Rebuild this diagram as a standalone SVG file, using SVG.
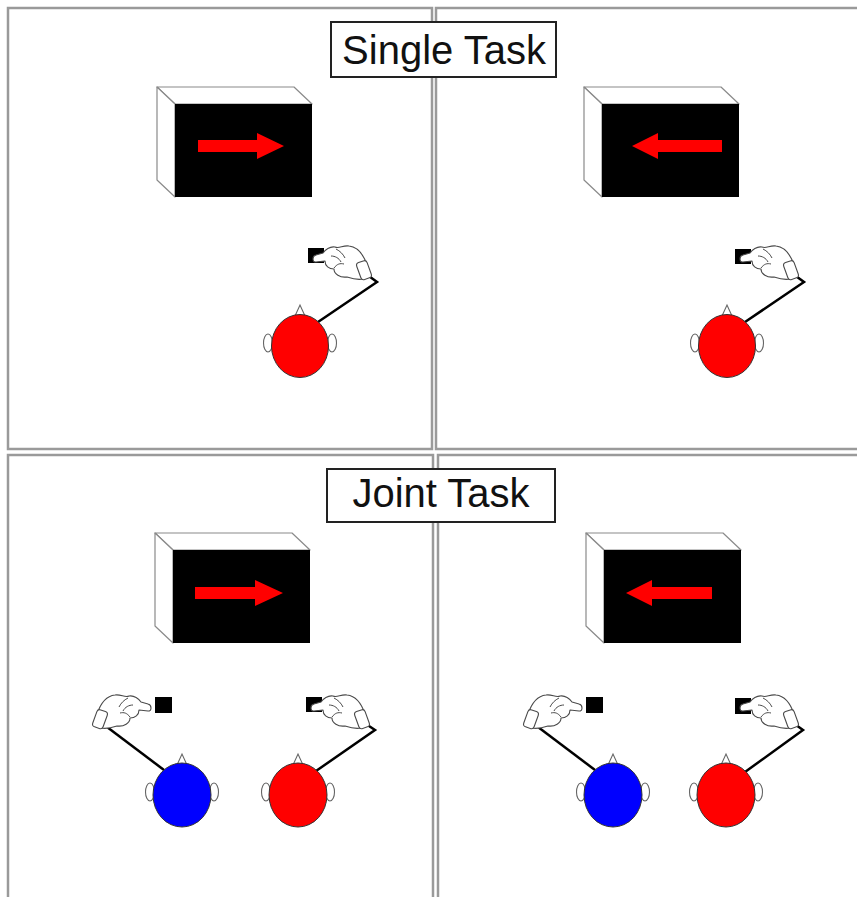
<svg xmlns="http://www.w3.org/2000/svg" xmlns:xlink="http://www.w3.org/1999/xlink" width="857" height="897" viewBox="0 0 857 897">
  <style>
    .panel { fill: none; stroke: #9a9a9a; stroke-width: 2.5; }
    .label-box { fill: #ffffff; stroke: #222222; stroke-width: 2; }
    .label { font-family: "Liberation Sans", Arial, sans-serif; font-size: 40px; fill: #111111; text-anchor: middle; }
    .case { fill: #ffffff; stroke: #8a8a8a; stroke-width: 1.2; stroke-linejoin: round; }
    .screen { fill: #000000; }
    .cue { fill: #ff0000; }
    .wire { fill: none; stroke: #000000; stroke-width: 2.5; stroke-linejoin: miter; }
    .key { fill: #000000; }
    .glove { fill: #ffffff; stroke: #4a4a4a; stroke-width: 1.1; stroke-linejoin: round; }
    .glove-line { fill: none; stroke: #4a4a4a; stroke-width: 1; }
    .ear, .nose { fill: #ffffff; stroke: #666666; stroke-width: 1.1; }
    .head-red { fill: #ff0000; stroke: #333333; stroke-width: 1; }
    .head-blue { fill: #0000ff; stroke: #333333; stroke-width: 1; }
  </style>
  <defs>
    <!-- monitor: back-left corner at origin, front face 137 x 93 -->
    <g id="monitor">
      <polygon class="case" points="0,0 137,0 155,17 18,17"/>
      <polygon class="case" points="0,0 18,17 18,110 0,93"/>
      <rect class="screen" x="18" y="17" width="137" height="93"/>
    </g>
    <!-- pointing glove, cuff centred on origin, index finger to the left -->
    <g id="glove">
      <path class="glove" d="M 5,-7 C 2,-16 -4,-25 -13,-26 C -19,-27 -23,-23 -27,-25 C -32,-26 -37,-22 -39,-19 L -46,-17 C -50,-16 -50,-10 -46,-10 L -37,-11 C -37,-6 -33,-3 -28,-3 C -28,2 -22,6 -15,5 C -9,7 -3,8 1,7 Z"/>
      <path class="glove-line" d="M -31,-16 C -27,-16 -23,-14 -21,-10 M -26,-23 C -22,-21 -19,-18 -17,-14 M -28,-4 C -25,-8 -22,-9 -18,-8"/>
      <rect class="glove" x="-3" y="-10" width="11" height="18" rx="3" transform="rotate(-20)"/>
    </g>
    <!-- head seen from above: nose, ears -->
    <g id="head-parts">
      <polygon class="nose" points="-5,-30 0,-41 5,-30"/>
      <ellipse class="ear" cx="-32" cy="-3" rx="4.5" ry="9"/>
      <ellipse class="ear" cx="32" cy="-3" rx="4.5" ry="9"/>
    </g>
  </defs>

  <!-- panel frames -->
  <g id="frames">
    <rect class="panel" x="8" y="8" width="424" height="441"/>
    <rect class="panel" x="436" y="8" width="440" height="441"/>
    <rect class="panel" x="8" y="455" width="425" height="460"/>
    <rect class="panel" x="438" y="455" width="440" height="460"/>
  </g>

  <!-- titles -->
  <g id="title-single">
    <rect class="label-box" x="331" y="22" width="225" height="55"/>
    <text class="label" x="444" y="64">Single Task</text>
  </g>
  <g id="title-joint">
    <rect class="label-box" x="327" y="469" width="228" height="53"/>
    <text class="label" x="441" y="507">Joint Task</text>
  </g>

  <!-- single task, right cue -->
  <g id="single-right">
    <use xlink:href="#monitor" transform="translate(157,87)"/>
    <polygon class="cue" points="198,140 257,140 257,133 284,146 257,159 257,152 198,152"/>
    <polyline class="wire" points="318,322 377,282 362,271"/>
    <rect class="key" x="308" y="248" width="16" height="15"/>
    <use xlink:href="#glove" transform="translate(362,272)"/>
    <use xlink:href="#head-parts" transform="translate(300,346)"/>
    <ellipse class="head-red" cx="300" cy="346" rx="28.5" ry="31.5"/>
  </g>

  <!-- single task, left cue -->
  <g id="single-left">
    <use xlink:href="#monitor" transform="translate(584,87)"/>
    <polygon class="cue" points="632,146 658,133 658,140 722,140 722,152 658,152 658,159"/>
    <polyline class="wire" points="745,322 804,282 789,271"/>
    <rect class="key" x="735" y="249" width="16" height="15"/>
    <use xlink:href="#glove" transform="translate(789,272)"/>
    <use xlink:href="#head-parts" transform="translate(727,346)"/>
    <ellipse class="head-red" cx="727" cy="346" rx="28.5" ry="31.5"/>
  </g>

  <!-- joint task, right cue -->
  <g id="joint-right">
    <use xlink:href="#monitor" transform="translate(155,533)"/>
    <polygon class="cue" points="195,587 255,587 255,580 283,593 255,606 255,599 195,599"/>
    <!-- left co-actor (blue) -->
    <polyline class="wire" points="164,770 107,727"/>
    <rect class="key" x="155" y="697" width="17" height="16"/>
    <use xlink:href="#glove" transform="translate(102,721) scale(-1,1)"/>
    <use xlink:href="#head-parts" transform="translate(182,795)"/>
    <ellipse class="head-blue" cx="182" cy="795" rx="29" ry="32"/>
    <!-- right co-actor (red) -->
    <polyline class="wire" points="316,771 375,730 360,720"/>
    <rect class="key" x="306" y="697" width="16" height="15"/>
    <use xlink:href="#glove" transform="translate(360,721)"/>
    <use xlink:href="#head-parts" transform="translate(298,795)"/>
    <ellipse class="head-red" cx="298" cy="795" rx="29" ry="32"/>
  </g>

  <!-- joint task, left cue -->
  <g id="joint-left">
    <use xlink:href="#monitor" transform="translate(586,533)"/>
    <polygon class="cue" points="626,593 652,580 652,587 712,587 712,599 652,599 652,606"/>
    <!-- left co-actor (blue) -->
    <polyline class="wire" points="595,770 538,727"/>
    <rect class="key" x="586" y="697" width="17" height="16"/>
    <use xlink:href="#glove" transform="translate(533,721) scale(-1,1)"/>
    <use xlink:href="#head-parts" transform="translate(613,795)"/>
    <ellipse class="head-blue" cx="613" cy="795" rx="29" ry="32"/>
    <!-- right co-actor (red) -->
    <polyline class="wire" points="745,772 803,730 789,720"/>
    <rect class="key" x="735" y="698" width="16" height="16"/>
    <use xlink:href="#glove" transform="translate(789,721)"/>
    <use xlink:href="#head-parts" transform="translate(726,795)"/>
    <ellipse class="head-red" cx="726" cy="795" rx="29" ry="32"/>
  </g>
</svg>
